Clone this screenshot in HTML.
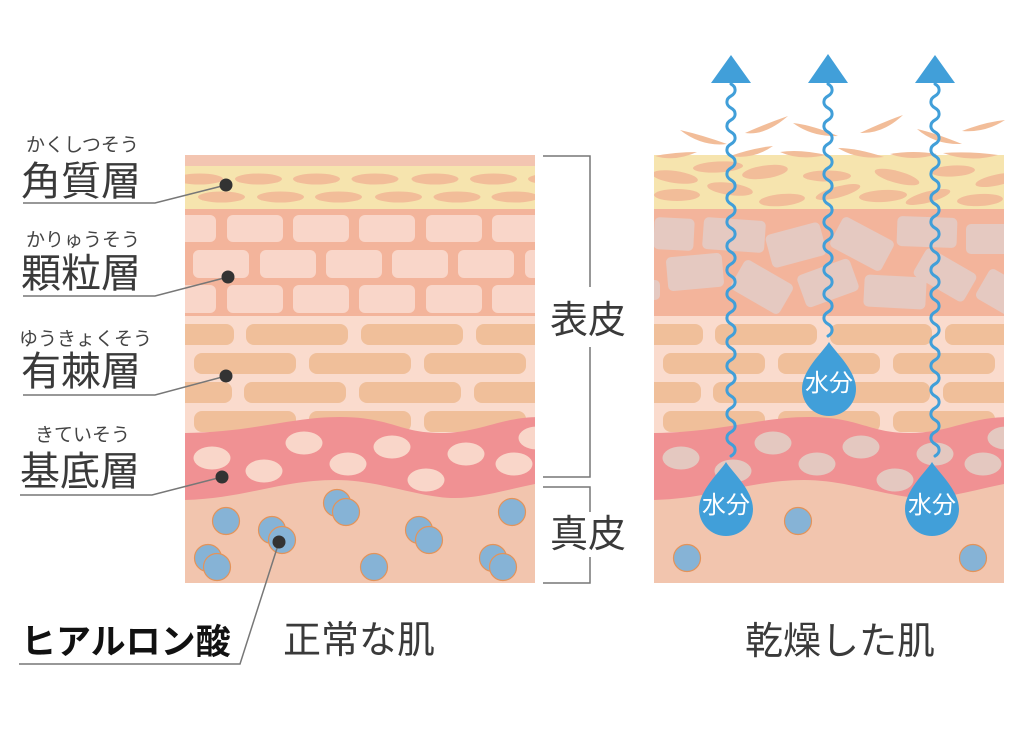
<!DOCTYPE html>
<html><head><meta charset="utf-8">
<style>
html,body{margin:0;padding:0;background:#fff;}
svg{display:block;}
text{font-family:"Liberation Sans","Noto Sans CJK JP",sans-serif;}
</style></head><body>
<svg width="1024" height="748" viewBox="0 0 1024 748" xmlns="http://www.w3.org/2000/svg">
<defs>
<clipPath id="cl"><rect x="185" y="155" width="350" height="428"/></clipPath>
<clipPath id="cr"><rect x="654" y="155" width="350" height="428"/></clipPath>
<g id="spin">
  <rect x="132" y="324" width="102" height="21" rx="8"/>
  <rect x="246" y="324" width="102" height="21" rx="8"/>
  <rect x="361" y="324" width="102" height="21" rx="8"/>
  <rect x="476" y="324" width="102" height="21" rx="8"/>
  <rect x="79" y="353" width="102" height="21" rx="8"/>
  <rect x="194" y="353" width="102" height="21" rx="8"/>
  <rect x="309" y="353" width="102" height="21" rx="8"/>
  <rect x="424" y="353" width="102" height="21" rx="8"/>
  <rect x="130" y="382" width="102" height="21" rx="8"/>
  <rect x="244" y="382" width="102" height="21" rx="8"/>
  <rect x="359" y="382" width="102" height="21" rx="8"/>
  <rect x="474" y="382" width="102" height="21" rx="8"/>
  <rect x="79" y="411" width="102" height="21" rx="8"/>
  <rect x="194" y="411" width="102" height="21" rx="8"/>
  <rect x="309" y="411" width="102" height="21" rx="8"/>
  <rect x="424" y="411" width="102" height="21" rx="8"/>
</g>
<path id="basal" d="M180,433 C250,433 290,417 340,417 C390,417 400,433 440,433 C480,433 500,417 540,417 L540,483 C505,490 480,498 455,498 C420,498 380,480 335,480 C280,480 240,500 180,500 Z"/>
<g id="bell">
  <ellipse cx="212" cy="458" rx="18.5" ry="11.5"/>
  <ellipse cx="264" cy="471" rx="18.5" ry="11.5"/>
  <ellipse cx="304" cy="443" rx="18.5" ry="11.5"/>
  <ellipse cx="348" cy="464" rx="18.5" ry="11.5"/>
  <ellipse cx="392" cy="447" rx="18.5" ry="11.5"/>
  <ellipse cx="426" cy="480" rx="18.5" ry="11.5"/>
  <ellipse cx="466" cy="454" rx="18.5" ry="11.5"/>
  <ellipse cx="514" cy="464" rx="18.5" ry="11.5"/>
  <ellipse cx="537" cy="438" rx="18.5" ry="11.5"/>
</g>
</defs>

<!-- LEFT PANEL -->
<g clip-path="url(#cl)">
  <rect x="185" y="155" width="350" height="428" fill="#f2c5ae"/>
  <rect x="185" y="155" width="350" height="11" fill="#f3c5b1"/>
  <rect x="185" y="166" width="350" height="43" fill="#f6e4ae"/>
  <g fill="#f2bd99">
    <ellipse cx="199.5" cy="179" rx="23.5" ry="5.5"/>
    <ellipse cx="258.5" cy="179" rx="23.5" ry="5.5"/>
    <ellipse cx="316.5" cy="179" rx="23.5" ry="5.5"/>
    <ellipse cx="375" cy="179" rx="23.5" ry="5.5"/>
    <ellipse cx="435" cy="179" rx="23.5" ry="5.5"/>
    <ellipse cx="493.5" cy="179" rx="23.5" ry="5.5"/>
    <ellipse cx="551.5" cy="179" rx="23.5" ry="5.5"/>
    <ellipse cx="221.5" cy="197" rx="23.5" ry="5.5"/>
    <ellipse cx="280.5" cy="197" rx="23.5" ry="5.5"/>
    <ellipse cx="338.5" cy="197" rx="23.5" ry="5.5"/>
    <ellipse cx="398.5" cy="197" rx="23.5" ry="5.5"/>
    <ellipse cx="457" cy="197" rx="23.5" ry="5.5"/>
    <ellipse cx="515" cy="197" rx="23.5" ry="5.5"/>
  </g>
  <rect x="185" y="209" width="350" height="107" fill="#f3b49b"/>
  <g fill="#f9d6c9">
    <rect x="160" y="215" width="56" height="27" rx="6"/>
    <rect x="227" y="215" width="56" height="27" rx="6"/>
    <rect x="293" y="215" width="56" height="27" rx="6"/>
    <rect x="359" y="215" width="56" height="27" rx="6"/>
    <rect x="426" y="215" width="56" height="27" rx="6"/>
    <rect x="492" y="215" width="56" height="27" rx="6"/>
    <rect x="193" y="250" width="56" height="28" rx="6"/>
    <rect x="260" y="250" width="56" height="28" rx="6"/>
    <rect x="326" y="250" width="56" height="28" rx="6"/>
    <rect x="392" y="250" width="56" height="28" rx="6"/>
    <rect x="458" y="250" width="56" height="28" rx="6"/>
    <rect x="525" y="250" width="56" height="28" rx="6"/>
    <rect x="160" y="285" width="56" height="28" rx="6"/>
    <rect x="227" y="285" width="56" height="28" rx="6"/>
    <rect x="293" y="285" width="56" height="28" rx="6"/>
    <rect x="359" y="285" width="56" height="28" rx="6"/>
    <rect x="426" y="285" width="56" height="28" rx="6"/>
    <rect x="492" y="285" width="56" height="28" rx="6"/>
  </g>
  <rect x="185" y="316" width="350" height="140" fill="#fadbcd"/>
  <use href="#spin" fill="#f0bf9a"/>
  <use href="#basal" fill="#f09193"/>
  <use href="#bell" fill="#f9d6c9"/>
  <g fill="#86b3d6" stroke="#e3935a" stroke-width="1.2">
    <circle cx="226" cy="521" r="13.5"/>
    <circle cx="208" cy="558" r="13.5"/>
    <circle cx="217" cy="567" r="13.5"/>
    <circle cx="272" cy="530" r="13.5"/>
    <circle cx="282" cy="540" r="13.5"/>
    <circle cx="337" cy="503" r="13.5"/>
    <circle cx="346" cy="512" r="13.5"/>
    <circle cx="419" cy="530" r="13.5"/>
    <circle cx="429" cy="540" r="13.5"/>
    <circle cx="374" cy="567" r="13.5"/>
    <circle cx="512" cy="512" r="13.5"/>
    <circle cx="493" cy="558" r="13.5"/>
    <circle cx="503" cy="567" r="13.5"/>
  </g>
</g>

<!-- RIGHT PANEL -->
<g clip-path="url(#cr)">
  <rect x="654" y="155" width="350" height="428" fill="#f2c5ae"/>
  <rect x="654" y="155" width="350" height="54" fill="#f6e4ae"/>
  <g fill="#f2bd99">
    <ellipse cx="718" cy="167" rx="25" ry="5.5" transform="rotate(-3 718 167)"/>
    <ellipse cx="765" cy="172" rx="23" ry="6.5" transform="rotate(-8 765 172)"/>
    <ellipse cx="675" cy="177" rx="23" ry="6" transform="rotate(8 675 177)"/>
    <ellipse cx="827" cy="176" rx="24" ry="5.5"/>
    <ellipse cx="897" cy="177" rx="23" ry="6" transform="rotate(15 897 177)"/>
    <ellipse cx="953" cy="171" rx="22" ry="5.5" transform="rotate(-3 953 171)"/>
    <ellipse cx="997" cy="180" rx="22" ry="5.5" transform="rotate(-12 997 180)"/>
    <ellipse cx="730" cy="189" rx="23" ry="6" transform="rotate(8 730 189)"/>
    <ellipse cx="677" cy="195" rx="23" ry="6"/>
    <ellipse cx="782" cy="200" rx="23" ry="6" transform="rotate(-5 782 200)"/>
    <ellipse cx="838" cy="192" rx="23" ry="5.5" transform="rotate(-15 838 192)"/>
    <ellipse cx="883" cy="196" rx="24" ry="6" transform="rotate(-3 883 196)"/>
    <ellipse cx="928" cy="197" rx="23" ry="5.5" transform="rotate(-15 928 197)"/>
    <ellipse cx="980" cy="200" rx="23" ry="6" transform="rotate(-3 980 200)"/>
  </g>
  <rect x="654" y="209" width="350" height="107" fill="#f3b49b"/>
  <g fill="#e5c9c1">
    <rect x="654" y="218" width="40" height="32" rx="5" transform="rotate(3 674 234)"/>
    <rect x="703" y="219" width="62" height="32" rx="5" transform="rotate(4 734 235)"/>
    <rect x="768" y="228" width="56" height="34" rx="5" transform="rotate(-15 796 245)"/>
    <rect x="833" y="227" width="58" height="34" rx="5" transform="rotate(28 862 244)"/>
    <rect x="897" y="217" width="60" height="30" rx="5" transform="rotate(2 927 232)"/>
    <rect x="966" y="224" width="48" height="30" rx="5"/>
    <rect x="667" y="255" width="56" height="34" rx="5" transform="rotate(-5 695 272)"/>
    <rect x="734" y="270" width="56" height="34" rx="5" transform="rotate(30 762 287)"/>
    <rect x="800" y="266" width="56" height="34" rx="5" transform="rotate(-20 828 283)"/>
    <rect x="864" y="276" width="62" height="32" rx="5" transform="rotate(3 895 292)"/>
    <rect x="916" y="259" width="58" height="32" rx="5" transform="rotate(30 945 275)"/>
    <rect x="980" y="275" width="40" height="34" rx="5" transform="rotate(30 1000 292)"/>
    <rect x="644" y="280" width="16" height="20" rx="5"/>
  </g>
  <rect x="654" y="316" width="350" height="140" fill="#fadbcd"/>
  <use href="#spin" fill="#f0bf9a" transform="translate(469 0)"/>
  <use href="#basal" fill="#f09193" transform="translate(469 0)"/>
  <use href="#bell" fill="#e4c8c0" transform="translate(469 0)"/>
  <g fill="#86b3d6" stroke="#e3935a" stroke-width="1.2">
    <circle cx="798" cy="521" r="13.5"/>
    <circle cx="687" cy="558" r="13.5"/>
    <circle cx="973" cy="558" r="13.5"/>
  </g>
</g>

<!-- flakes -->
<g fill="#f2bd99">
  <path d="M680,130 Q702,147 727,144 Q702,135 680,130 Z"/>
  <path d="M745,133 Q765,136 788,116 Q765,124 745,133 Z"/>
  <path d="M793,123 Q812,137 838,136 Q812,125 793,123 Z"/>
  <path d="M860,133 Q883,134 903,115 Q883,122 860,133 Z"/>
  <path d="M917,129 Q935,145 962,144 Q935,133 917,129 Z"/>
  <path d="M962,131 Q985,133 1005,120 Q985,122 962,131 Z"/>
  <path d="M655,156 Q675,162 697,152 Q675,152 655,156 Z"/>
  <path d="M730,156 Q753,160 773,146 Q753,148 730,156 Z"/>
  <path d="M780,152 Q800,161 826,155 Q800,149 780,152 Z"/>
  <path d="M838,148 Q857,160 884,157 Q857,148 838,148 Z"/>
  <path d="M890,154 Q913,162 937,154 Q913,150 890,154 Z"/>
  <path d="M943,153 Q970,163 998,155 Q970,151 943,153 Z"/>
</g>

<!-- water lines -->
<g fill="none" stroke="#419fd9" stroke-width="3" stroke-linecap="round">
  <path d="M731,84 c5.5,3 5.5,9 0,12 s-5.5,9 0,12 s5.5,9 0,12 s-5.5,9 0,12 s5.5,9 0,12 s-5.5,9 0,12 s5.5,9 0,12 s-5.5,9 0,12 s5.5,9 0,12 s-5.5,9 0,12 s5.5,9 0,12 s-5.5,9 0,12 s5.5,9 0,12 s-5.5,9 0,12 s5.5,9 0,12 s-5.5,9 0,12 s5.5,9 0,12 s-5.5,9 0,12 s5.5,9 0,12 s-5.5,9 0,12 s5.5,9 0,12 s-5.5,9 0,12 s5.5,9 0,12 s-5.5,9 0,12 s5.5,9 0,12 s-5.5,9 0,12 s5.5,9 0,12 s-5.5,9 0,12 s5.5,9 0,12 s-5.5,9 0,12 s5.5,9 0,12"/>
  <path d="M828,84 c5.5,3 5.5,9 0,12 s-5.5,9 0,12 s5.5,9 0,12 s-5.5,9 0,12 s5.5,9 0,12 s-5.5,9 0,12 s5.5,9 0,12 s-5.5,9 0,12 s5.5,9 0,12 s-5.5,9 0,12 s5.5,9 0,12 s-5.5,9 0,12 s5.5,9 0,12 s-5.5,9 0,12 s5.5,9 0,12 s-5.5,9 0,12 s5.5,9 0,12 s-5.5,9 0,12 s5.5,9 0,12 s-5.5,9 0,12 s5.5,9 0,12"/>
  <path d="M935,84 c5.5,3 5.5,9 0,12 s-5.5,9 0,12 s5.5,9 0,12 s-5.5,9 0,12 s5.5,9 0,12 s-5.5,9 0,12 s5.5,9 0,12 s-5.5,9 0,12 s5.5,9 0,12 s-5.5,9 0,12 s5.5,9 0,12 s-5.5,9 0,12 s5.5,9 0,12 s-5.5,9 0,12 s5.5,9 0,12 s-5.5,9 0,12 s5.5,9 0,12 s-5.5,9 0,12 s5.5,9 0,12 s-5.5,9 0,12 s5.5,9 0,12 s-5.5,9 0,12 s5.5,9 0,12 s-5.5,9 0,12 s5.5,9 0,12 s-5.5,9 0,12 s5.5,9 0,12 s-5.5,9 0,12 s5.5,9 0,12 s-5.5,9 0,12 s5.5,9 0,12"/>
</g>
<g fill="#419fd9">
  <polygon points="711,83 731,55 751,83"/>
  <polygon points="808,83 828,54 848,83"/>
  <polygon points="915,83 935,55 955,83"/>
  <path d="M829,342 C835,352 856,370 856,389 A27,27 0 0 1 802,389 C802,370 823,352 829,342 Z"/>
  <path d="M726,462 C732,472 753,490 753,509 A27,27 0 0 1 699,509 C699,490 720,472 726,462 Z"/>
  <path d="M932,462 C938,472 959,490 959,509 A27,27 0 0 1 905,509 C905,490 926,472 932,462 Z"/>
</g>
<g fill="#ffffff" font-size="24" text-anchor="middle">
  <text x="829" y="391">水分</text>
  <text x="726" y="513">水分</text>
  <text x="932" y="513">水分</text>
</g>

<!-- leader lines -->
<g fill="none" stroke="#777" stroke-width="1.5">
  <polyline points="23,203 155,203 226,185"/>
  <polyline points="23,296 155,296 228,277"/>
  <polyline points="23,395 155,395 226,376"/>
  <polyline points="20,495 152,495 222,477"/>
  <polyline points="19,664 240,664 279,542"/>
  <polyline points="543,156 590,156 590,287"/>
  <polyline points="590,347 590,477 543,477"/>
  <polyline points="543,487 590,487 590,512"/>
  <polyline points="590,557 590,583 543,583"/>
</g>
<g fill="#333">
  <circle cx="226" cy="185" r="6.5"/>
  <circle cx="228" cy="277" r="6.5"/>
  <circle cx="226" cy="376" r="6.5"/>
  <circle cx="222" cy="477" r="6.5"/>
  <circle cx="279" cy="542" r="6.5"/>
</g>

<!-- labels -->
<g fill="#444" font-size="19">
  <text x="26" y="151">かくしつそう</text>
  <text x="26" y="246">かりゅうそう</text>
  <text x="19" y="345">ゆうきょくそう</text>
  <text x="35" y="441">きていそう</text>
</g>
<g fill="#3a3a3a" font-size="40">
  <text x="21" y="195">角質層</text>
  <text x="21" y="287">顆粒層</text>
  <text x="21" y="385">有棘層</text>
  <text x="20" y="485">基底層</text>
</g>
<g fill="#3a3a3a" font-size="38">
  <text x="550" y="333">表皮</text>
  <text x="550" y="547">真皮</text>
  <text x="283" y="653">正常な肌</text>
  <text x="745" y="654">乾燥した肌</text>
</g>
<text x="21" y="654" font-size="35" font-weight="bold" fill="#111">ヒアルロン酸</text>
</svg>
</body></html>
